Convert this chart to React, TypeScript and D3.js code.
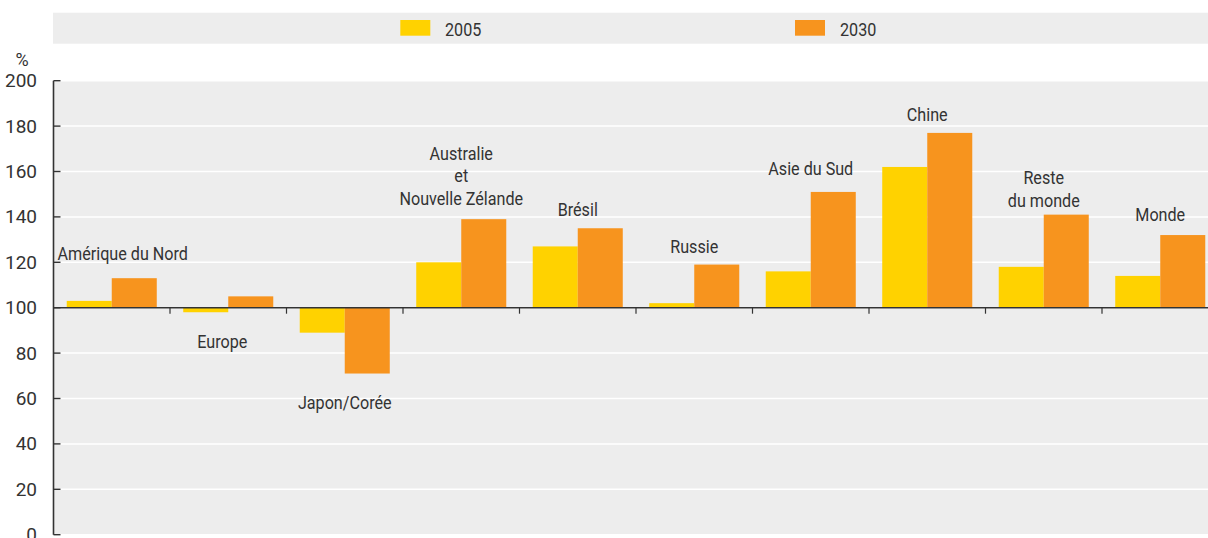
import React from "react";
import * as d3 from "d3";

const categories = [
  "Amérique du Nord",
  "Europe",
  "Japon/Corée",
  "Australie et Nouvelle Zélande",
  "Brésil",
  "Russie",
  "Asie du Sud",
  "Chine",
  "Reste du monde",
  "Monde",
];
const seriesNames = ["2005", "2030"];
const values2005 = [103, 98, 89, 120, 127, 102, 116, 162, 118, 114];
const values2030 = [113, 105, 71, 139, 135, 119, 151, 177, 141, 132];
const yTicks = [0, 20, 40, 60, 80, 100, 120, 140, 160, 180, 200];
const baselineValue = 100;

// Annotation layout: label lines, baseline position of last line (in data units), x shift
const labelLines = [
  ["Amérique du Nord"],
  ["Europe"],
  ["Japon/Corée"],
  ["Australie", "et", "Nouvelle Zélande"],
  ["Brésil"],
  ["Russie"],
  ["Asie du Sud"],
  ["Chine"],
  ["Reste", "du monde"],
  ["Monde"],
];
const labelAt = [121, 82.2, 55.4, 145.4, 140.6, 124.1, 158.5, 182.2, 144.4, 138.2];
const labelDx = [11, -6, 0, 0, 0, 0, 0, 0, 0, 0];

const W = 1208;
const H = 538;
const plotLeft = 53.5;
const plotRight = 1208;
const groupStep = 116.5;
const yTop = 80.7;
const yBottom = 534.7;
const colors = ["#FFD200", "#F7941E"];
const FONT = "Roboto, 'Liberation Sans', sans-serif";
const TEXT = "#333333";
const SQUEEZE = 0.85;

export default function App() {
  const y = d3.scaleLinear().domain([0, 200]).range([yBottom, yTop]);
  const x0 = d3
    .scaleBand<string>()
    .domain(categories)
    .range([plotLeft, plotLeft + groupStep * categories.length])
    .paddingInner(0)
    .paddingOuter(0);
  const x1 = d3
    .scaleBand<string>()
    .domain(seriesNames)
    .range([0, x0.bandwidth()])
    .paddingInner(0)
    .paddingOuter(0.294);
  const data = [values2005, values2030];
  const yb = y(baselineValue);
  const lineH = 22.5;

  return (
    <svg
      width={W}
      height={H}
      style={{ position: "absolute", left: 0, top: 0, display: "block" }}
      fontFamily={FONT}
    >
      <rect x={0} y={0} width={W} height={H} fill="#ffffff" />
      {/* Legend band */}
      <rect x={53} y={12.7} width={plotRight - 53} height={31} fill="#EDEDED" />
      <rect x={400.3} y={20} width={30} height={15.7} fill={colors[0]} />
      <text transform={`translate(445,36) scale(${SQUEEZE},1)`} fontSize={19} fill={TEXT}>
        {seriesNames[0]}
      </text>
      <rect x={795} y={20} width={30} height={15.7} fill={colors[1]} />
      <text transform={`translate(840,36) scale(${SQUEEZE},1)`} fontSize={19} fill={TEXT}>
        {seriesNames[1]}
      </text>

      {/* Plot background */}
      <rect x={53} y={yTop} width={plotRight - 53} height={yBottom - yTop} fill="#EDEDED" />
      {yTicks.map((t) => (
        <line
          key={"g" + t}
          x1={plotLeft}
          x2={plotRight}
          y1={y(t)}
          y2={y(t)}
          stroke="#ffffff"
          strokeWidth={1.5}
        />
      ))}

      {/* Bars */}
      {categories.map((c, i) => (
        <g key={c} transform={`translate(${x0(c)},0)`}>
          {seriesNames.map((s, k) => {
            const v = data[k][i];
            const yv = y(v);
            return (
              <rect
                key={s}
                x={x1(s)}
                y={Math.min(yv, yb)}
                width={x1.bandwidth()}
                height={Math.abs(yv - yb)}
                fill={colors[k]}
              />
            );
          })}
        </g>
      ))}

      {/* Baseline at 100 with group ticks */}
      <line x1={plotLeft} x2={plotRight} y1={yb} y2={yb} stroke="#333" strokeWidth={1.6} />
      {categories.slice(1).map((c) => (
        <line
          key={"bt" + c}
          x1={x0(c)}
          x2={x0(c)}
          y1={yb}
          y2={yb + 6}
          stroke="#333"
          strokeWidth={1.2}
        />
      ))}

      {/* Y axis */}
      <line x1={plotLeft} x2={plotLeft} y1={yTop} y2={yBottom} stroke="#333" strokeWidth={1.6} />
      {yTicks.map((t) => (
        <g key={"t" + t}>
          <line x1={plotLeft} x2={plotLeft + 7} y1={y(t)} y2={y(t)} stroke="#333" strokeWidth={1.4} />
          <text x={37} y={y(t) + 6.5} fontSize={19} textAnchor="end" fill={TEXT}>
            {t}
          </text>
        </g>
      ))}
      <text x={22} y={66} fontSize={18} textAnchor="middle" fill={TEXT}>
        %
      </text>

      {/* Category labels */}
      {categories.map((c, i) => {
        const lines = labelLines[i];
        const cx = (x0(c) as number) + x0.bandwidth() / 2 + labelDx[i];
        const base = y(labelAt[i]);
        return (
          <text
            key={"l" + c}
            transform={`translate(${cx},${base}) scale(${SQUEEZE},1)`}
            fontSize={19}
            textAnchor="middle"
            fill={TEXT}
          >
            {lines.map((ln, j) => (
              <tspan key={j} x={0} y={-(lines.length - 1 - j) * lineH}>
                {ln}
              </tspan>
            ))}
          </text>
        );
      })}
    </svg>
  );
}
